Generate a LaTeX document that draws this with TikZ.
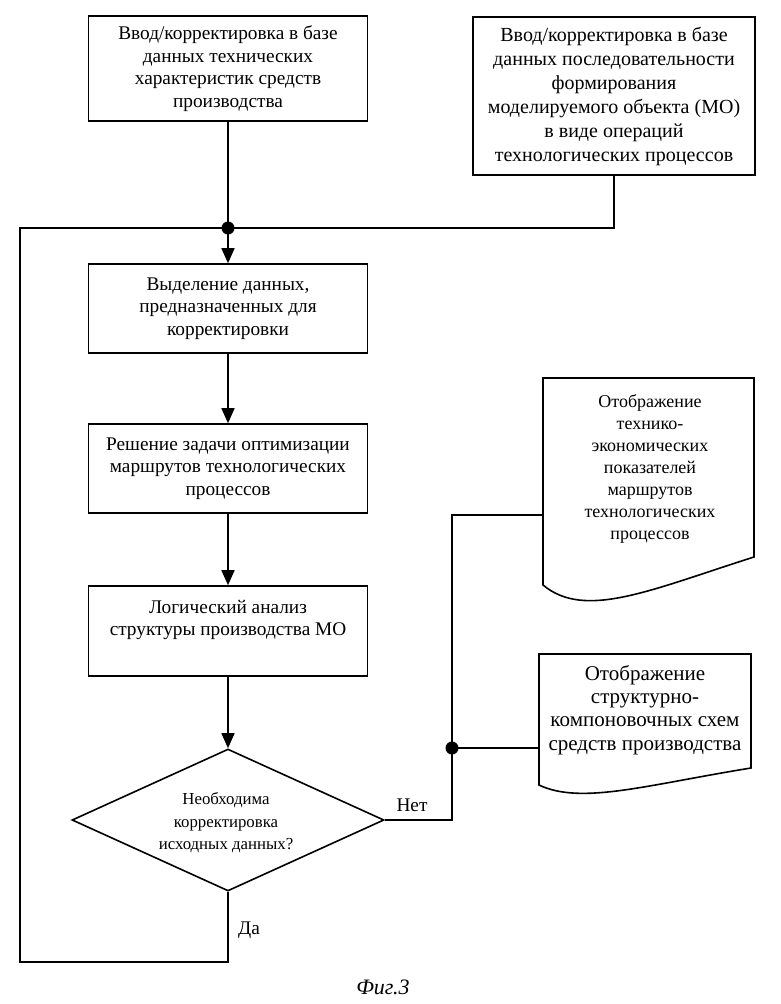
\documentclass[tikz,border=0pt]{standalone}
\usepackage{fontspec}
\setmainfont{Liberation Serif}
\usetikzlibrary{shapes.geometric,arrows.meta}
\begin{document}
\begin{tikzpicture}[x=1pt,y=-1pt, line width=1.6pt,
  box/.style={draw, rectangle, inner sep=0pt, align=center, minimum width=279pt, font=\fontsize{19.3}{22.5}\selectfont},
  txt/.style={align=center, inner sep=0pt, font=\fontsize{19.3}{22.5}\selectfont},
  arr/.style={-{Triangle[length=15pt,width=13pt]}},
  jdot/.style={circle, fill, inner sep=0pt, minimum size=13pt},
]
\useasboundingbox (0,0) rectangle (780,1004);
% main column
\node[box, minimum height=105pt] (b1) at (228,68.5) {Ввод/корректировка в базе\\данных технических\\характеристик средств\\производства};
\node[box, minimum width=282pt, minimum height=158pt, font=\fontsize{20}{24}\selectfont] (b2) at (614,96) {Ввод/корректировка в базе\\данных последовательности\\формирования\\моделируемого объекта (МО)\\в виде операций\\технологических процессов};
\node[box, minimum height=89pt] (b3) at (228,308.5) {Выделение данных,\\предназначенных для\\корректировки};
\node[box, minimum height=89pt] (b4) at (228,468.5) {Решение задачи оптимизации\\маршрутов технологических\\процессов};
\node[box, minimum height=90pt] (b5) at (228,631) {};
\node[txt] (b5t) at (228,620) {Логический анализ\\структуры производства МО};
\node[diamond, draw, inner sep=0pt, minimum width=312pt, minimum height=142pt] (dia) at (228,820) {};
\node[txt, font=\fontsize{16.8}{22.5}\selectfont] (diat) at (226,823) {Необходима\\корректировка\\исходных данных?};
% documents
\draw (543,585) -- (543,378) -- (754,378) -- (754,557) .. controls (650,590) and (585,620) .. cycle;
\node[txt, font=\fontsize{18}{22}\selectfont] (d1) at (650,469) {Отображение\\технико-\\экономических\\показателей\\маршрутов\\технологических\\процессов};
\draw (539,785) -- (539,654) -- (751,654) -- (751,768) .. controls (646,785) and (581,805) .. cycle;
\node[txt, font=\fontsize{21}{23.3}\selectfont] (d2) at (645,710) {Отображение\\структурно-\\компоновочных схем\\средств производства};
% labels
\node[txt] (net) at (412,805) {Нет};
\node[txt] (da) at (249,930) {Да};
\node[inner sep=0pt, font=\fontsize{22}{26}\selectfont\itshape] (fig) at (383,987) {Фиг.3};
% junctions
\node[jdot] (J) at (228,228) {};
\node[jdot] (K) at (452,748) {};
\coordinate (L1) at (228,962);
\coordinate (L2) at (20,962);
\coordinate (L3) at (20,228);
\coordinate (R1) at (452,820);
\coordinate (R2) at (452,515);
\coordinate (D1) at (543,515);
\coordinate (D2) at (539,748);
% connectors
\draw (b1.south) -- (J.center);
\draw (b2.south) |- (J.center);
\draw[arr] (J.center) -- (b3.north);
\draw[arr] (b3) -- (b4);
\draw[arr] (b4) -- (b5);
\draw[arr] (b5) -- (dia.north);
\draw (dia.south) -- (L1) -- (L2) -- (L3) -- (J.center);
\draw (dia.east) -- (R1) -- (R2) -- (D1);
\draw (K.center) -- (D2);
\end{tikzpicture}
\end{document}
